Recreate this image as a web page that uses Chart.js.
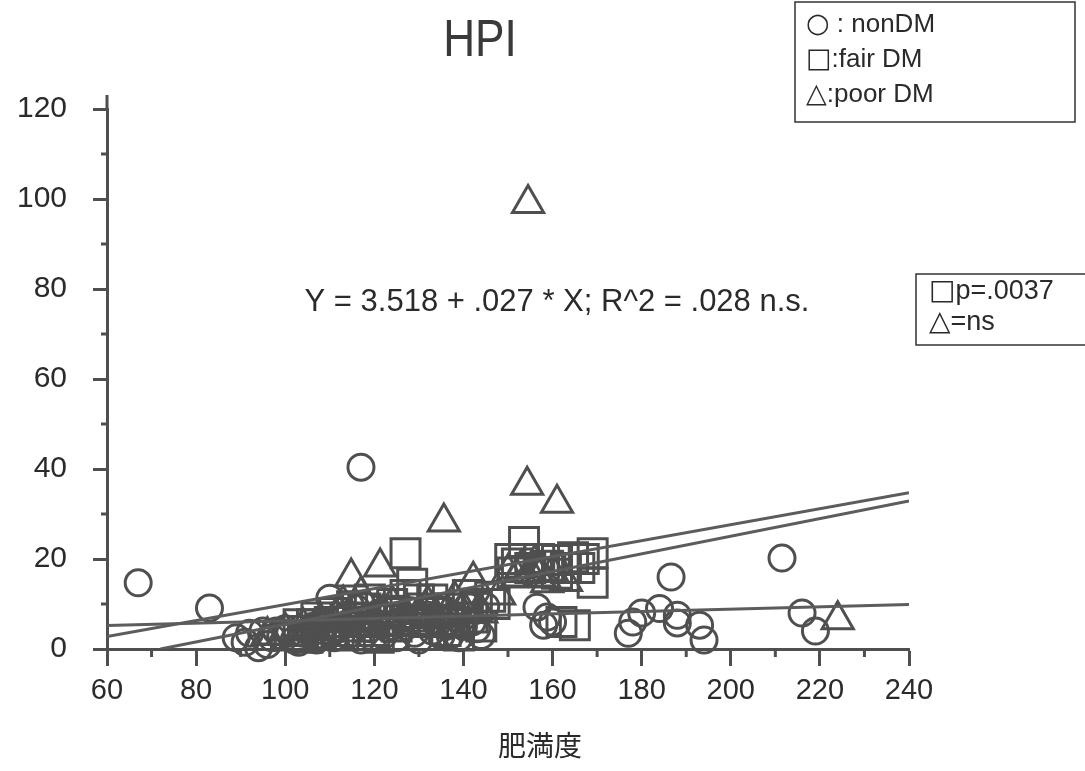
<!DOCTYPE html>
<html>
<head>
<meta charset="utf-8">
<script src="https://cdn.jsdelivr.net/npm/chart.js@4.4.1/dist/chart.umd.min.js"></script>
<style>
  html, body { margin: 0; padding: 0; background: #fff; }
  #wrap { width: 1085px; height: 771px; }
</style>
</head>
<body>
<div id="wrap"><canvas id="hpiChart" width="1085" height="771"></canvas></div>
<script>
// --- data ---
const nonDmX = [67, 83, 89, 91, 92, 94, 95, 96, 97, 98, 99, 100, 101, 102, 103, 104, 105, 106, 107, 108,
    109, 110, 111, 112, 113, 114, 115, 116, 117, 117, 118, 119, 120, 121, 122, 123, 124, 125, 126, 127,
    128, 129, 130, 131, 132, 133, 134, 135, 136, 137, 138, 139, 140, 141, 142, 143, 144, 145,
    156.5, 158, 158.8, 160, 177, 178, 180, 184, 186.6, 188, 188, 193, 194, 211.5, 216, 219];
const nonDmY = [14.7, 9.1, 2.5, 1.5, 3.5, 0.3, 4, 1, 2.5, 4, 3, 4.5, 3.5, 2, 1.5, 3.5, 4, 5, 2, 3,
    5.5, 11.3, 2.5, 4.5, 7, 3, 6, 9, 40.4, 2, 3.5, 4.5, 6, 8, 3, 4.5, 5, 2.5, 7, 5,
    8.5, 3.5, 2, 6, 7.5, 4, 9, 3, 5, 3, 7, 2.5, 5, 9.5, 6, 4.5, 3, 9.5,
    9.3, 5.3, 7.1, 6, 3.5, 6, 8, 9, 16, 7.5, 5.8, 5.3, 2, 20.2, 8, 4];

const fairDmX = [101, 103, 104, 105, 106, 107, 108, 109, 110, 111, 112, 113, 114, 115, 116, 117, 118, 119,
    120, 121, 122, 123, 124, 125, 126, 127, 127, 128.5, 129, 130, 131, 132, 133, 134, 135, 136, 137, 138,
    139, 140, 141, 142, 143, 144, 146, 147, 150.5, 151, 152, 153.6, 155, 157, 158, 159, 161, 161, 162,
    163, 164.6, 165, 166, 167, 169, 169];
const fairDmY = [3, 5.5, 4, 2.5, 5.5, 7, 3.5, 4.5, 6, 8, 4, 3, 7, 9.5, 5, 6, 9, 11,
    4, 2.5, 6.5, 8.5, 10, 5, 8, 21.3, 12, 14.5, 6.5, 11, 9, 6, 11, 8, 6.5, 4, 9, 6,
    3, 9, 12, 7, 9.5, 5, 11.6, 10, 20, 17, 19, 23.8, 18, 20, 17, 18.5, 19.8, 16.7, 6,
    18, 20.4, 5.3, 18, 20, 21.3, 14.7];

const poorDmX = [96, 100, 104, 108, 110, 112, 113, 114.8, 116, 117, 118, 120, 121.3, 122, 124, 126, 128,
    130, 132, 134, 135.6, 137, 138, 140, 142.2, 144, 148, 150, 152, 153, 154.3, 154.5, 155, 156, 157,
    158.8, 160, 161, 163, 224];
const poorDmY = [3, 4, 5, 6, 4, 8, 10, 16, 9, 12, 6, 5, 18.2, 8, 10, 5, 6,
    8, 10, 7, 28.2, 5, 11, 9, 15.3, 8, 12, 17, 16, 18, 36.4, 99, 17, 19, 16,
    14.7, 17, 32.4, 15, 6.5];

// regression lines (end points)
const nonDmLineX = [60, 240];
const nonDmLineY = [5.2, 9.9];
const fairDmLineX = [60, 240];
const fairDmLineY = [2.8, 34.7];
const poorDmLineX = [72, 240];
const poorDmLineY = [0, 32.9];

const xTicksMajor = [60, 80, 100, 120, 140, 160, 180, 200, 220, 240];
const yTicksMajor = [0, 20, 40, 60, 80, 100, 120];
const xTicksMinor = [70, 90, 110, 130, 150, 170, 190, 210, 230];
const yTicksMinor = [10, 30, 50, 70, 90, 110];

const titleText = 'HPI';
const xTitleText = '肥満度';
const equationText = 'Y = 3.518 + .027 * X; R^2 = .028 n.s.';
const legendSymbols = ['○', '□', '△'];
const legendLabels = [' : nonDM', ':fair DM', ':poor DM'];
const pSymbols = ['□', '△'];
const pLabels = ['p=.0037', '=ns'];

const INK = '#4f4f4f';
const TEXT = '#2a2a2a';
const FONT = "'Liberation Sans', Arial, sans-serif";
const SYM_FONT = "'DejaVu Sans', sans-serif";

function toPoints(xs, ys) {
    return xs.map((x, i) => ({ x: x, y: ys[i] }));
}

function markerSet(label, xs, ys, style, radius) {
    return {
        label: label,
        data: toPoints(xs, ys),
        pointStyle: style,
        pointRadius: radius,
        pointHoverRadius: radius,
        pointBorderWidth: 3,
        borderColor: INK,
        backgroundColor: 'rgba(0,0,0,0)',
        clip: false,
        order: 1
    };
}

function lineSet(label, xs, ys) {
    return {
        label: label,
        data: toPoints(xs, ys),
        showLine: true,
        pointRadius: 0,
        borderColor: '#5c5c5c',
        borderWidth: 3,
        order: 0
    };
}

function symbolRow(ctx, sym, text, x, y, size) {
    ctx.font = (size + 1) + 'px ' + SYM_FONT;
    ctx.fillText(sym, x, y);
    const w = ctx.measureText(sym).width;
    ctx.font = size + 'px ' + FONT;
    ctx.fillText(text, x + w, y);
}

// Draws minor ticks, axis overhang, titles and the two boxed notes
const decorations = {
    id: 'decorations',
    afterDraw(chart) {
        const ctx = chart.ctx;
        const xs = chart.scales.x;
        const ys = chart.scales.y;
        const area = chart.chartArea;
        ctx.save();

        ctx.strokeStyle = INK;
        ctx.lineWidth = 3;
        ctx.beginPath();
        xTicksMinor.forEach(v => {
            const px = xs.getPixelForValue(v);
            ctx.moveTo(px, area.bottom);
            ctx.lineTo(px, area.bottom + 8);
        });
        yTicksMinor.forEach(v => {
            const py = ys.getPixelForValue(v);
            ctx.moveTo(area.left, py);
            ctx.lineTo(area.left - 6, py);
        });
        // y axis runs a little past 120
        ctx.moveTo(area.left, area.top);
        ctx.lineTo(area.left, area.top - 14);
        ctx.stroke();

        ctx.fillStyle = TEXT;
        ctx.textAlign = 'center';
        ctx.textBaseline = 'middle';

        ctx.save();
        ctx.translate(480, 42);
        ctx.scale(0.85, 1);
        ctx.font = '52px ' + FONT;
        ctx.fillStyle = '#3a3a3a';
        ctx.fillText(titleText, 0, 0);
        ctx.restore();

        ctx.font = "28px 'Noto Sans CJK JP', sans-serif";
        ctx.fillText(xTitleText, 540, 745);

        ctx.font = '31px ' + FONT;
        ctx.fillText(equationText, 557, 302);

        // legend box
        ctx.fillStyle = '#fff';
        ctx.strokeStyle = '#333';
        ctx.lineWidth = 1.5;
        ctx.fillRect(795, 2, 280, 120);
        ctx.strokeRect(795, 2, 280, 120);
        ctx.fillStyle = TEXT;
        ctx.textAlign = 'left';
        legendSymbols.forEach((s, i) => {
            symbolRow(ctx, s, legendLabels[i], 806, 25 + i * 35, 26);
        });

        // p-value box
        ctx.fillStyle = '#fff';
        ctx.fillRect(916, 274, 175, 71);
        ctx.strokeRect(916, 274, 175, 71);
        ctx.fillStyle = TEXT;
        pSymbols.forEach((s, i) => {
            symbolRow(ctx, s, pLabels[i], 929, 292 + i * 31, 27);
        });

        ctx.restore();
    }
};

const ctx = document.getElementById('hpiChart');
new Chart(ctx, {
    type: 'scatter',
    data: {
        datasets: [
            markerSet('nonDM', nonDmX, nonDmY, 'circle', 13),
            markerSet('fair DM', fairDmX, fairDmY, 'rect', 20.5),
            markerSet('poor DM', poorDmX, poorDmY, 'triangle', 18),
            lineSet('nonDM fit', nonDmLineX, nonDmLineY),
            lineSet('fair DM fit', fairDmLineX, fairDmLineY),
            lineSet('poor DM fit', poorDmLineX, poorDmLineY)
        ]
    },
    options: {
        responsive: false,
        animation: false,
        events: [],
        layout: { padding: { left: 0, top: 109, right: 176, bottom: 0 } },
        plugins: {
            legend: { display: false },
            tooltip: { enabled: false },
            title: { display: false }
        },
        scales: {
            x: {
                type: 'linear',
                min: 60,
                max: 240,
                afterFit: scale => { scale.height = 122; },
                afterBuildTicks: scale => { scale.ticks = xTicksMajor.map(v => ({ value: v })); },
                border: { display: true, color: INK, width: 3 },
                grid: { drawOnChartArea: false, tickLength: 17, tickWidth: 3, tickColor: INK },
                ticks: {
                    autoSkip: false,
                    maxRotation: 0,
                    padding: 8,
                    color: TEXT,
                    font: { family: FONT, size: 29 }
                }
            },
            y: {
                type: 'linear',
                min: 0,
                max: 120,
                afterFit: scale => { scale.width = 107; },
                afterBuildTicks: scale => { scale.ticks = yTicksMajor.map(v => ({ value: v })); },
                border: { display: true, color: INK, width: 3 },
                grid: { drawOnChartArea: false, tickLength: 14, tickWidth: 3, tickColor: INK },
                ticks: {
                    autoSkip: false,
                    padding: 26,
                    color: TEXT,
                    font: { family: FONT, size: 30 }
                }
            }
        }
    },
    plugins: [decorations]
});
</script>
</body>
</html>
